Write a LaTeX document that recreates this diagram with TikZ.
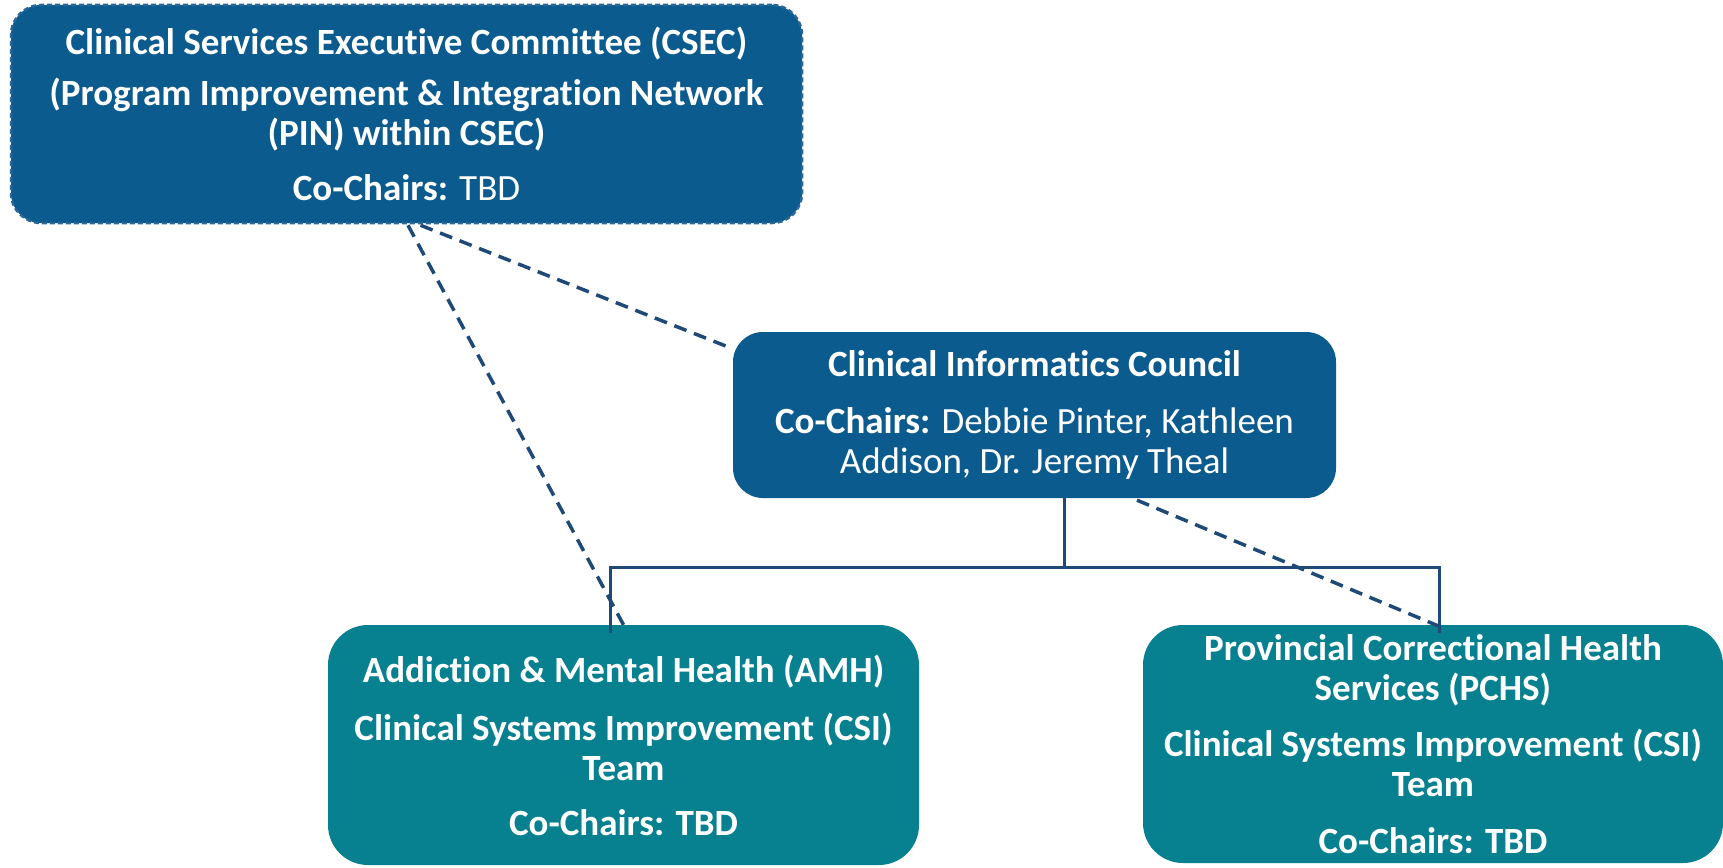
\documentclass[tikz,border=0pt]{standalone}
\usepackage{fontspec}
\setmainfont{Carlito}[Ligatures=NoCommon]
\usetikzlibrary{calc}
\definecolor{darkblue}{HTML}{0B5B8E}
\definecolor{tealbox}{HTML}{07808F}
\definecolor{navy}{HTML}{1F4A78}
\definecolor{bordblue}{HTML}{2A6697}
\begin{document}
\begin{tikzpicture}[x=1pt,y=-1pt,
  box/.style={rounded corners=#1, inner sep=0pt, align=center, text=white,
    font=\fontsize{37}{40}\selectfont\bfseries},
  solidline/.style={draw=navy, line width=3pt},
  dashline/.style={draw=navy, line width=3.5pt, dash pattern=on 13pt off 8pt}]
\useasboundingbox (0,0) rectangle (1723,867);
\fill[white] (0,0) rectangle (1723,867);

\node[box=30pt, fill=darkblue, draw=bordblue, line width=2.5pt, dash pattern=on 5pt off 3pt,
  minimum width=791pt, minimum height=218pt] (top) at (406.5,114)
  {Clinical Services Executive Committee (CSEC)\\[11pt](Program Improvement \& Integration Network\\(PIN) within CSEC)\\[15pt]Co-Chairs: {\mdseries TBD}};

\node[box=30pt, fill=darkblue, minimum width=603pt, minimum height=166pt] (cic) at (1034.5,415)
  {Clinical Informatics Council\\[17pt]Co-Chairs: {\mdseries Debbie Pinter, Kathleen}\\{\mdseries Addison, Dr. Jeremy Theal}};

\node[box=40pt, fill=tealbox, minimum width=591pt, minimum height=240pt] (amh) at (623.5,745)
  {Addiction \& Mental Health (AMH)\\[18pt]Clinical Systems Improvement (CSI)\\Team\\[15pt]Co-Chairs: TBD};

\node[box=40pt, fill=tealbox, minimum width=580pt, minimum height=238pt] (pchs) at (1433,744)
  {Provincial Correctional Health\\Services (PCHS)\\[16pt]Clinical Systems Improvement (CSI)\\Team\\[17pt]Co-Chairs: TBD};

\coordinate (bus) at (0,567);
\draw[solidline] ([xshift=29.5pt]cic.south) -- ([xshift=29.5pt]cic.south |- bus);
\draw[solidline] ([xshift=-13.5pt,yshift=-8pt]amh.north) |- ([xshift=6pt]pchs.north |- bus) -- ([xshift=6pt,yshift=-8pt]pchs.north);

\draw[dashline] ([xshift=1.5pt,yshift=-1pt]top.south) -- (amh.north);
\draw[dashline] ([xshift=14pt,yshift=-1pt]top.south) -- ([yshift=-17pt]cic.north west);
\draw[dashline] ([xshift=102.5pt,yshift=-2pt]cic.south) -- ([xshift=5pt,yshift=-1pt]pchs.north);
\end{tikzpicture}
\end{document}
